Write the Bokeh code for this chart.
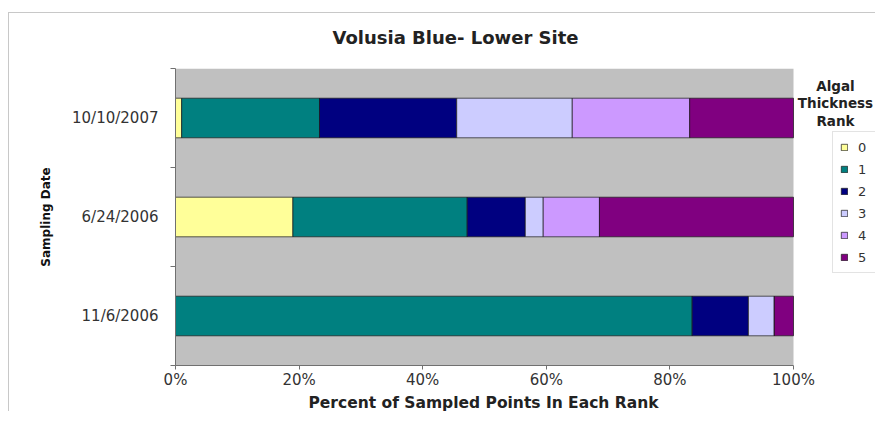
from bokeh.plotting import figure
from bokeh.models import (ColumnDataSource, Range1d, FixedTicker, Legend, Label,
                          BoxAnnotation, PrintfTickFormatter, Title, InlineStyleSheet)
from bokeh.embed import file_html
from bokeh.resources import INLINE

# ---- data ----
dates = ["11/6/2006", "6/24/2006", "10/10/2007"]   # bottom -> top
ranks = ["0", "1", "2", "3", "4", "5"]
rank0 = [0.0, 19.0, 1.0]
rank1 = [83.6, 28.2, 22.3]
rank2 = [9.1, 9.4, 22.2]
rank3 = [4.2, 2.9, 18.7]
rank4 = [0.0, 9.1, 19.0]
rank5 = [3.1, 31.4, 16.8]
x_ticks = [0, 20, 40, 60, 80, 100]
colors = ["#FFFF99", "#008080", "#000080", "#CCCCFF", "#CC99FF", "#800080"]

# ---- layout constants (pixels) ----
W, H = 875, 411
FRAME_L, FRAME_T, FRAME_B = 175, 68, 367
PLOT_R = 793                       # right edge of the grey plot area
x_max = 100.0 * (W - FRAME_L) / (PLOT_R - FRAME_L)

ypos = list(range(1, len(dates) + 1))
source = ColumnDataSource(dict(y=ypos, r0=rank0, r1=rank1, r2=rank2,
                               r3=rank3, r4=rank4, r5=rank5))
keys = ["r0", "r1", "r2", "r3", "r4", "r5"]

p = figure(width=W, height=H, output_backend="svg", toolbar_location=None,
           x_range=Range1d(0, x_max), y_range=Range1d(0.5, len(dates) + 0.5),
           min_border_left=FRAME_L, min_border_right=0, min_border_top=FRAME_T,
           min_border_bottom=H - FRAME_B)

p.background_fill_color = "white"
p.border_fill_color = "white"
p.outline_line_color = None
p.xgrid.visible = False
p.ygrid.visible = False

# thin light-grey chart-area border (left / top edges visible)
p.stylesheets = [InlineStyleSheet(css="""
:host { position: relative; overflow: hidden; }
:host::after { content: ''; position: absolute; left: 8px; top: 12px;
               width: 2000px; height: 2000px; border: 1px solid #C8C8C8;
               pointer-events: none; }
""")]

# grey plot area 0..100 %
p.add_layout(BoxAnnotation(left=0, right=100, fill_color="#C0C0C0", fill_alpha=1,
                           line_color=None, level="underlay"))

renderers = p.hbar_stack(keys, y="y", height=0.4, source=source, color=colors,
                         line_color="#1a1a1a", line_width=0.7)

# title
p.title.text = "Volusia Blue- Lower Site"
p.title.align = "left"
p.title.offset = 157
p.title.text_font = "DejaVu Sans"
p.title.text_font_size = "18px"
p.title.text_font_style = "bold"
p.title.text_color = "#222222"
p.title.standoff = 41

# x axis
xa = p.xaxis[0]
xa.bounds = (0, 100)
xa.ticker = FixedTicker(ticks=x_ticks, minor_ticks=[])
xa.formatter = PrintfTickFormatter(format="%d%%")
xa.major_label_text_font = "DejaVu Sans"
xa.major_label_text_font_size = "15px"
xa.major_label_text_color = "#333333"
xa.major_label_standoff = 1
xa.major_tick_out = 4
xa.major_tick_in = 0
xa.axis_line_color = "#707070"
xa.major_tick_line_color = "#707070"

# x axis title, centred under the 0..100 % plot area
x_title = Title(text="Percent of Sampled Points In Each Rank", align="left", offset=133,
                text_font="DejaVu Sans", text_font_size="15.5px",
                text_font_style="bold", text_color="#222222", standoff=0)
p.add_layout(x_title, "below")

# y axis
ya = p.yaxis[0]
ya.ticker = FixedTicker(ticks=ypos, minor_ticks=[v - 0.5 for v in ypos] + [ypos[-1] + 0.5])
ya.major_label_overrides = {v: d for v, d in zip(ypos, dates)}
ya.axis_label = "Sampling Date"
ya.axis_label_text_font = "DejaVu Sans"
ya.axis_label_text_font_size = "12px"
ya.axis_label_text_font_style = "bold"
ya.axis_label_text_color = "#111111"
ya.axis_label_standoff = 16
ya.major_label_text_font = "DejaVu Sans"
ya.major_label_text_font_size = "15px"
ya.major_label_text_color = "#333333"
ya.major_label_standoff = 12
ya.major_tick_out = 0
ya.major_tick_in = 0
ya.minor_tick_out = 5
ya.minor_tick_in = 0
ya.axis_line_color = "#707070"
ya.minor_tick_line_color = "#707070"

# legend
legend = Legend(items=[(r_, [rend]) for r_, rend in zip(ranks, renderers)],
                location=(832 - FRAME_L, FRAME_B - 275), orientation="vertical")
legend.glyph_width = 8
legend.glyph_height = 8
legend.label_height = 16
legend.spacing = 6
legend.padding = 7
legend.margin = 0
legend.label_standoff = 10
legend.label_text_font = "DejaVu Sans"
legend.label_text_font_size = "13px"
legend.label_text_color = "#333333"
legend.border_line_color = "#C8C8C8"
legend.border_line_width = 1
legend.background_fill_color = "white"
legend.background_fill_alpha = 1
p.add_layout(legend, "center")

for txt, yy in [("Algal", 87), ("Thickness", 104), ("Rank", 122)]:
    p.add_layout(Label(x=835 - FRAME_L, y=FRAME_B - yy, x_units="screen", y_units="screen",
                       text=txt, text_align="center", text_baseline="middle",
                       text_font="DejaVu Sans", text_font_size="13.5px",
                       text_font_style="bold", text_color="#222222"))

open("out.html", "w").write(file_html(p, INLINE))
